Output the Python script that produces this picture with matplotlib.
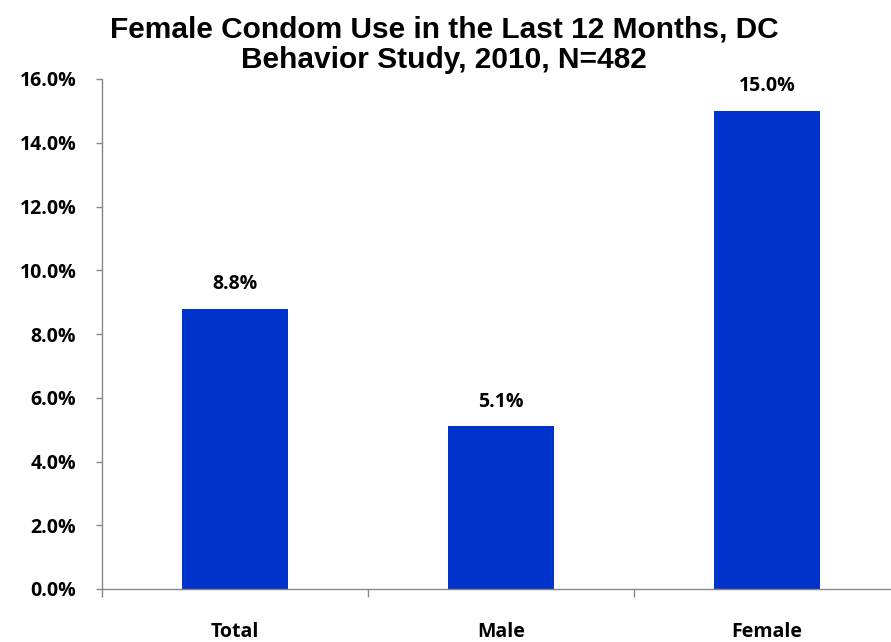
import matplotlib
matplotlib.use("Agg")
import matplotlib.pyplot as plt
from matplotlib.ticker import FuncFormatter, FixedLocator

categories = ["Total", "Male", "Female"]
values = [8.8, 5.1, 15.0]
yticks = [0, 2, 4, 6, 8, 10, 12, 14, 16]

W, H = 891, 642
fig = plt.figure(figsize=(W/100, H/100), dpi=100)
left, right, bottom, top = 102, 900, 589, 79
ax = fig.add_axes([left/W, (H-bottom)/H, (right-left)/W, (bottom-top)/H])

x = list(range(len(categories)))
ax.bar(x, values, width=0.4, color="#0033CC", zorder=2)
ax.set_xlim(-0.5, 2.5)
ax.set_ylim(0, 16)

fam = ["Open Sans", "DejaVu Sans"]
lblfont = dict(family=fam, weight="bold", size=14)
for xi, v in zip(x, values):
    ax.annotate(f"{v:.1f}%", (xi, v), xytext=(0, 10.5), textcoords="offset points",
                ha="center", va="bottom", **lblfont)

ax.set_yticks(yticks)
ax.yaxis.set_major_formatter(FuncFormatter(lambda v, p: f"{v:.1f}%"))
ax.set_xticks(x)
ax.set_xticklabels(categories)
ax.xaxis.set_minor_locator(FixedLocator([-0.5, 0.5, 1.5, 2.5]))
ax.tick_params(axis="x", which="major", length=0, pad=24)
ax.tick_params(axis="x", which="minor", length=5.5, color="#888888", width=1)
ax.tick_params(axis="y", length=4, color="#888888", width=1, pad=14.5)
for lab in ax.get_xticklabels() + ax.get_yticklabels():
    lab.set_fontfamily(fam)
    lab.set_fontweight("bold")
    lab.set_fontsize(14)

for s in ["top", "right"]:
    ax.spines[s].set_visible(False)
for s in ["left", "bottom"]:
    ax.spines[s].set_color("#888888")
    ax.spines[s].set_linewidth(1)

tfont = dict(ha="center", va="center", family=["Liberation Sans", "DejaVu Sans"],
             weight="bold", size=21.5)
fig.text(444/W, 1 - 30/H, "Female Condom Use in the Last 12 Months, DC", **tfont)
fig.text(444/W, 1 - 60/H, "Behavior Study, 2010, N=482", **tfont)

fig.savefig("out.png", dpi=100)
